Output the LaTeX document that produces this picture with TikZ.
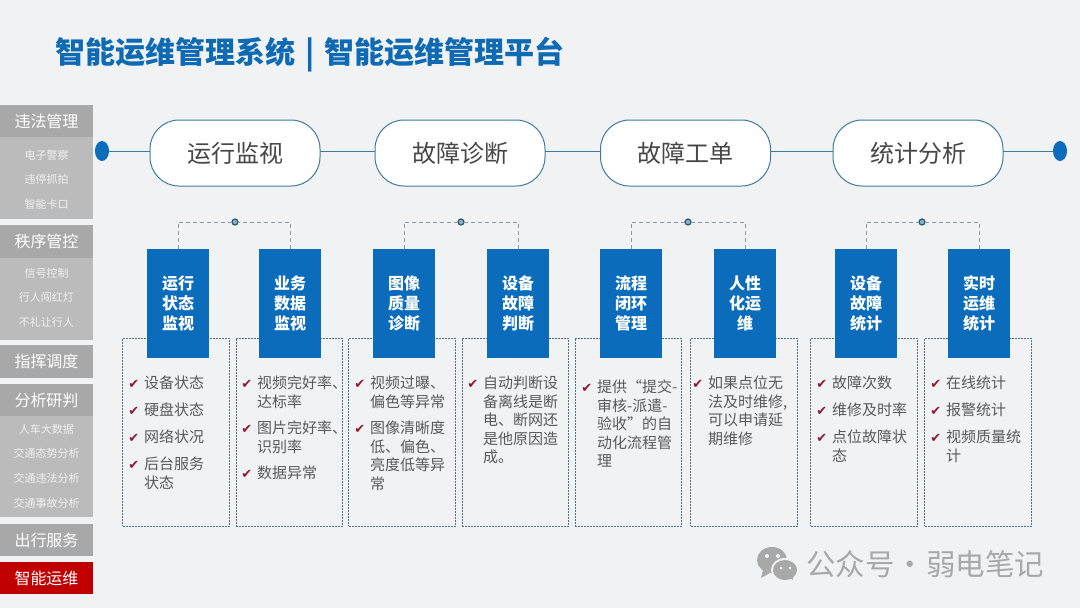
\documentclass[tikz,border=0pt]{standalone}
\usepackage{fontspec}
\setmainfont{Noto Sans CJK SC}
\newfontfamily\symfont{DejaVu Sans}
\usetikzlibrary{shapes.geometric, positioning}
\definecolor{pagebg}{HTML}{F1F2F3}
\definecolor{bluebox}{HTML}{0A6CBB}
\definecolor{titleblue}{HTML}{0F6AB4}
\definecolor{linecol}{HTML}{3F7C9C}
\definecolor{dashcol}{HTML}{4F7088}
\definecolor{brackcol}{HTML}{8A98A2}
\definecolor{headgray}{HTML}{A8A8A8}
\definecolor{subgray}{HTML}{BBBBBB}
\definecolor{redhead}{HTML}{C00000}
\definecolor{checkred}{HTML}{8E1B30}
\definecolor{bodytext}{HTML}{595959}
\newcommand{\chk}{\llap{\textcolor{checkred}{\symfont\fontsize{13}{13}\selectfont ✔}\hspace{5pt}}}
\tikzstyle{header} = [
    rectangle,
    fill=headgray,
    text=white,
    minimum width=93pt,
    minimum height=32.5pt,
    inner sep=0pt,
    font=\fontsize{16}{16}\selectfont
]
\tikzstyle{subpanel} = [
    rectangle,
    fill=subgray,
    minimum width=93pt,
    inner sep=0pt
]
\tikzstyle{subitem} = [
    node distance=24.6pt,
    text=white!80!subgray,
    inner sep=0pt,
    font=\fontsize{11}{11}\selectfont
]
\tikzstyle{enddot} = [
    ellipse,
    fill=bluebox,
    minimum width=14pt,
    minimum height=20pt,
    inner sep=0pt
]
\tikzstyle{phase} = [
    rectangle,
    rounded corners=29pt,
    draw=linecol,
    line width=1pt,
    fill=white,
    text=black!72,
    minimum width=170pt,
    minimum height=66pt,
    font=\fontsize{24}{24}\selectfont
]
\tikzstyle{bluecard} = [
    rectangle,
    fill=bluebox,
    text=white,
    minimum width=62pt,
    minimum height=109pt,
    inner sep=0pt,
    align=center,
    font=\fontsize{16}{20}\selectfont\bfseries
]
\tikzstyle{panel} = [
    rectangle,
    draw=dashcol,
    line width=0.7pt,
    dash pattern=on 2pt off 1pt,
    minimum width=106.5pt,
    minimum height=188pt
]
\tikzstyle{bullets} = [
    anchor=north west,
    inner sep=0pt,
    align=left,
    text=bodytext,
    font=\fontsize{15}{18.5}\selectfont
]
\tikzstyle{joint} = [
    circle,
    draw=black!30!linecol,
    fill=linecol!60,
    line width=1.2pt,
    minimum size=6pt,
    inner sep=0pt
]
\tikzstyle{mainline} = [linecol, line width=1pt]
\tikzstyle{bracket} = [brackcol, line width=1pt, dash pattern=on 4pt off 3pt]

\begin{document}
\begin{tikzpicture}[x=1pt,y=-1pt]

\useasboundingbox [fill=pagebg] (0,0) rectangle (1080,608);

\node (title) [anchor=west, inner sep=0pt, text=titleblue, font=\fontsize{30}{30}\selectfont\bfseries] at (55,55)
{智能运维管理系统\hspace{3pt} | \hspace{3pt}智能运维管理平台};

% sidebar
\node (sub1) [subpanel, minimum height=82pt] at (46.5,178) {};
\node (head1) [header] at (46.5,121) {违法管理};
\node (item1a) [subitem] at (46.5,155) {电子警察};
\node (item1b) [subitem, below of=item1a] {违停抓拍};
\node (item1c) [subitem, below of=item1b] {智能卡口};

\node (sub2) [subpanel, minimum height=82pt] at (46.5,299) {};
\node (head2) [header] at (46.5,241.5) {秩序管控};
\node (item2a) [subitem] at (46.5,273) {信号控制};
\node (item2b) [subitem, below of=item2a] {行人闯红灯};
\node (item2c) [subitem, below of=item2b] {不礼让行人};

\node (head3) [header] at (46.5,361.5) {指挥调度};

\node (sub4) [subpanel, minimum height=101pt] at (46.5,466.5) {};
\node (head4) [header] at (46.5,400) {分析研判};
\node (item4a) [subitem] at (46.5,429) {人车大数据};
\node (item4b) [subitem, below of=item4a] {交通态势分析};
\node (item4c) [subitem, below of=item4b] {交通违法分析};
\node (item4d) [subitem, below of=item4c] {交通事故分析};

\node (head5) [header] at (46.5,540) {出行服务};
\node (head6) [header, fill=redhead] at (46.5,578) {智能运维};

% top line
\node (dotl) [enddot] at (102,151) {};
\node (dotr) [enddot] at (1060,151) {};

\draw [mainline] (dotl) -- (dotr);

\node (monitor) [phase] at (235,153) {运行监视};
\node (diagnose) [phase] at (460,153) {故障诊断};
\node (ticket) [phase] at (685.5,153) {故障工单};
\node (stats) [phase] at (918,153) {统计分析};

% dashed panels
\node (panel1) [panel] at (176,432) {};
\node (panel2) [panel] at (289.5,432) {};
\node (panel3) [panel] at (402,432) {};
\node (panel4) [panel] at (515.5,432) {};
\node (panel5) [panel] at (628.5,432) {};
\node (panel6) [panel] at (744,432) {};
\node (panel7) [panel] at (864,432) {};
\node (panel8) [panel] at (978,432) {};

% blue cards
\node (card1) [bluecard] at (178,303.5) {运行\\状态\\监视};
\node (card2) [bluecard] at (290,303.5) {业务\\数据\\监视};
\node (card3) [bluecard] at (404,303.5) {图像\\质量\\诊断};
\node (card4) [bluecard] at (518,303.5) {设备\\故障\\判断};
\node (card5) [bluecard] at (631,303.5) {流程\\闭环\\管理};
\node (card6) [bluecard] at (745,303.5) {人性\\化运\\维};
\node (card7) [bluecard] at (866,303.5) {设备\\故障\\统计};
\node (card8) [bluecard] at (979,303.5) {实时\\运维\\统计};

\node (joint1) [joint] at (235,222) {};
\node (joint2) [joint] at (461,222) {};
\node (joint3) [joint] at (688,222) {};
\node (joint4) [joint] at (922,222) {};

\draw [bracket] (card1.north) |- (joint1);
\draw [bracket] (card2.north) |- (joint1);
\draw [bracket] (card3.north) |- (joint2);
\draw [bracket] (card4.north) |- (joint2);
\draw [bracket] (card5.north) |- (joint3);
\draw [bracket] (card6.north) |- (joint3);
\draw [bracket] (card7.north) |- (joint4);
\draw [bracket] (card8.north) |- (joint4);

% lists
\node (list1) [bullets] at (144,376)
{\chk 设备状态\\[8.5pt]\chk 硬盘状态\\[8.5pt]\chk 网络状况\\[8.5pt]\chk 后台服务\\状态};
\node (list2) [bullets] at (257,376)
{\chk 视频完好率、\\达标率\\[8pt]\chk 图片完好率、\\识别率\\[8pt]\chk 数据异常};
\node (list3) [bullets] at (370,376)
{\chk 视频过曝、\\偏色等异常\\[8pt]\chk 图像清晰度\\低、偏色、\\亮度低等异\\常};
\node (list4) [bullets] at (483,376)
{\chk 自动判断设\\备离线是断\\电、断网还\\是他原因造\\成。};
\node (list5) [bullets] at (597,380)
{\chk 提供“提交-\\审核-派遣-\\验收”的自\\动化流程管\\理};
\node (list6) [bullets] at (708,376)
{\chk 如果点位无\\法及时维修,\\可以申请延\\期维修};
\node (list7) [bullets] at (832,376)
{\chk 故障次数\\[8.5pt]\chk 维修及时率\\[8.5pt]\chk 点位故障状\\态};
\node (list8) [bullets] at (946,376)
{\chk 在线统计\\[8.5pt]\chk 报警统计\\[8.5pt]\chk 视频质量统\\计};

% watermark
\fill [headgray] (772,560) ellipse (15pt and 13pt);
\fill [headgray] (763,570) -- (761,578) -- (770,573) -- cycle;
\fill [pagebg] (785,570) ellipse (14pt and 12pt);
\fill [headgray] (785,570) ellipse (12pt and 10pt);
\fill [headgray] (788,577) -- (793,580) -- (792,570) -- cycle;
\fill [pagebg] (767,556) circle (2pt);
\fill [pagebg] (778,556) circle (2pt);
\fill [pagebg] (781,568) circle (1.5pt);
\fill [pagebg] (790,568) circle (1.5pt);
\node (mark) [anchor=west, inner sep=0pt, text=headgray, font=\fontsize{29.5}{30}\selectfont] at (806,564)
{公众号\hspace{1pt}·\hspace{1pt}弱电笔记};

\end{tikzpicture}
\end{document}
